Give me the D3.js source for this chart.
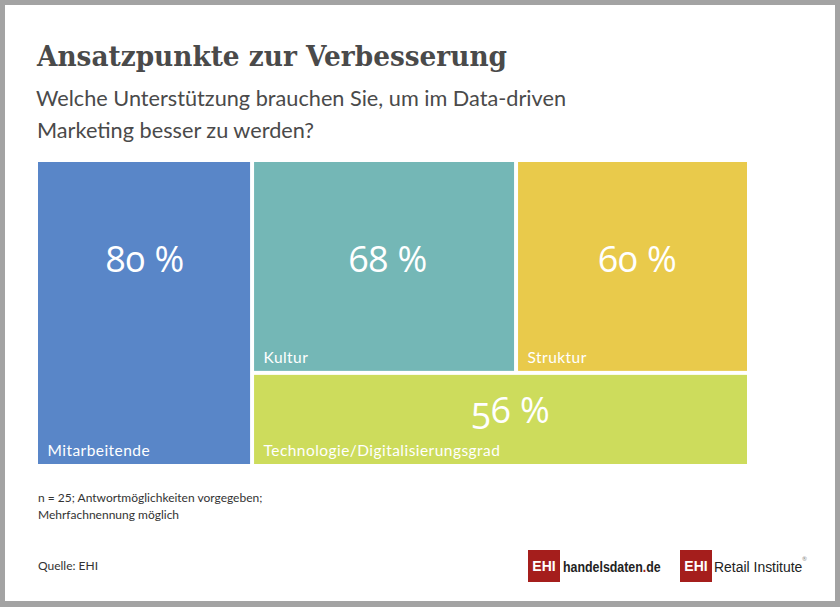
<!DOCTYPE html>
<html>
<head>
<meta charset="utf-8">
<script src="https://cdn.jsdelivr.net/npm/d3@7"></script>
<style>
  html, body { margin: 0; padding: 0; background: #a3a3a3; }
  svg { display: block; }
</style>
</head>
<body>
<div id="chart"></div>
<script>
// Values
const categories = ["Mitarbeitende", "Kultur", "Struktur", "Technologie/Digitalisierungsgrad"];
const shares = [80, 68, 60, 56];
const colors = ["#5986c8", "#74b7b6", "#e9ca4b", "#cddc5c"];
const subtitleLines = ["Welche Unterstützung brauchen Sie, um im Data-driven", "Marketing besser zu werden?"];
const noteLines = ["n = 25; Antwortmöglichkeiten vorgegeben;", "Mehrfachnennung möglich"];

const drawChart = () => {
  const width = 840;
  const height = 607;
  const ink = "#4a4a4a";
  const bodyFont = "Lato, sans-serif";
  const logoFont = "'Liberation Sans', sans-serif";

  // the big numbers do not sit in the cell centres in the reference
  const valueShift = [[1, 111], [4, 111], [5, 111], [10, 49]];

  const svg = d3.select("#chart")
                .append("svg")
                .attr("width", width)
                .attr("height", height)
                .style("font-family", bodyFont);

  // card
  svg.append("rect")
     .attr("x", 5).attr("y", 5)
     .attr("width", 830).attr("height", 596)
     .attr("fill", "#fff");

  svg.append("text")
     .attr("x", 37).attr("y", 66)
     .attr("font-size", 28)
     .attr("font-weight", 700)
     .attr("textLength", 470)
     .attr("lengthAdjust", "spacingAndGlyphs")
     .attr("fill", ink)
     .style("font-family", "'DejaVu Serif', serif")
     .text("Ansatzpunkte zur Verbesserung");

  svg.selectAll(".subtitle")
     .data(subtitleLines)
     .enter()
     .append("text")
     .attr("class", "subtitle")
     .attr("x", (d, i) => 36 + i)
     .attr("y", (d, i) => 106 + i * 32)
     .attr("font-size", 21.7)
     .attr("fill", ink)
     .text((d) => d);

  // the cells: one column on the left, the rest stacked on the right
  const tree = {
    children: [
      { index: 0 },
      { children: [
        { children: [{ index: 1 }, { index: 2 }] },
        { index: 3 }
      ] }
    ]
  };

  const root = d3.hierarchy(tree).sum((d) => (d.index === undefined ? 0 : shares[d.index]));

  d3.treemap()
    .tile(d3.treemapSliceDice)
    .size([711, 304])
    .paddingInner(2)(root);

  const chart = svg.append("g").attr("transform", "translate(37,161)");

  const cell = chart.selectAll("g")
                    .data(root.leaves())
                    .enter()
                    .append("g")
                    .attr("transform", (d) => `translate(${d.x0},${d.y0})`);

  cell.append("rect")
      .attr("x", 1).attr("y", 1)
      .attr("width", (d) => d.x1 - d.x0 - 2)
      .attr("height", (d) => d.y1 - d.y0 - 2)
      .attr("fill", (d) => colors[d.data.index]);

  cell.append("text")
      .attr("x", (d) => (d.x1 - d.x0) / 2 + valueShift[d.data.index][0])
      .attr("y", (d) => valueShift[d.data.index][1])
      .attr("text-anchor", "middle")
      .attr("font-size", 36)
      .attr("fill", "#fff")
      .style("font-family", "'Open Sans', sans-serif")
      .style("font-feature-settings", "'onum'")
      .text((d) => `${shares[d.data.index]} %`);

  cell.append("text")
      .attr("x", 10.5)
      .attr("y", (d) => d.y1 - d.y0 - 9)
      .attr("font-size", 15.5)
      .attr("letter-spacing", 0.45)
      .attr("fill", "#fff")
      .text((d) => categories[d.data.index]);

  svg.selectAll(".note")
     .data(noteLines)
     .enter()
     .append("text")
     .attr("class", "note")
     .attr("x", 38)
     .attr("y", (d, i) => 502 + i * 17)
     .attr("font-size", 12)
     .attr("fill", "#333")
     .text((d) => d);

  svg.append("text")
     .attr("x", 38).attr("y", 570)
     .attr("font-size", 12)
     .attr("fill", "#333")
     .text("Quelle: EHI");

  // logos
  const logo = (x, y) => {
    svg.append("rect")
       .attr("x", x).attr("y", y)
       .attr("width", 32).attr("height", 32)
       .attr("fill", "#a51e1c");
    svg.append("text")
       .attr("x", x + 16).attr("y", y + 21)
       .attr("text-anchor", "middle")
       .attr("font-size", 14)
       .attr("font-weight", 700)
       .attr("fill", "#fff")
       .style("font-family", logoFont)
       .text("EHI");
  };

  logo(528, 550);
  logo(680, 550);

  // no narrow face installed, so squeeze the wordmarks sideways
  const brand = svg.append("text")
                   .attr("transform", "translate(563,572) scale(0.8,1)")
                   .attr("font-size", 15.5)
                   .attr("font-weight", 700)
                   .attr("fill", "#222")
                   .style("font-family", logoFont);
  brand.append("tspan").text("handelsdaten");
  brand.append("tspan").attr("fill", "#a51e1c").text(".");
  brand.append("tspan").text("de");

  svg.append("text")
     .attr("transform", "translate(714,572) scale(0.9,1)")
     .attr("font-size", 15.5)
     .attr("fill", "#222")
     .style("font-family", logoFont)
     .text("Retail Institute");

  svg.append("text")
     .attr("x", 802).attr("y", 561)
     .attr("font-size", 6)
     .attr("fill", "#888")
     .text("®");
}

drawChart();
</script>
</body>
</html>
